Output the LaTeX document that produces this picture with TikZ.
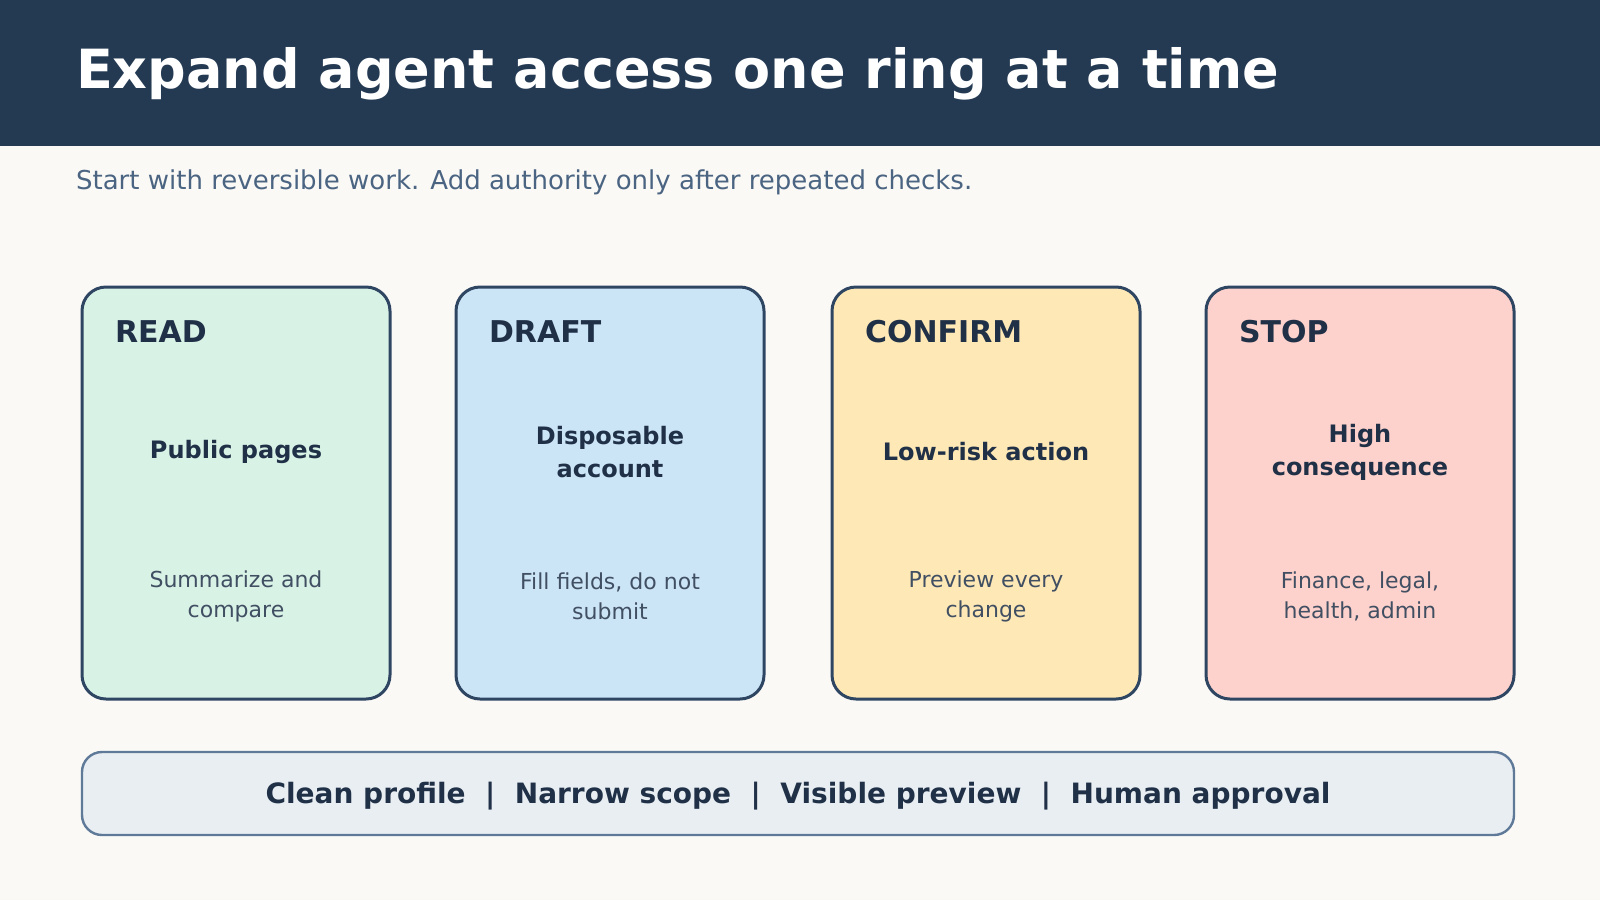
\documentclass[tikz,border=0pt]{standalone}
\usepackage{fontspec}
\setmainfont{DejaVu Sans}
\begin{document}
\definecolor{bg}{HTML}{FAF9F6}
\definecolor{hdr}{HTML}{243A53}
\definecolor{ink}{HTML}{1F3047}
\definecolor{sub}{HTML}{4A6482}
\definecolor{edge}{HTML}{2F4663}
\definecolor{cg}{HTML}{D9F2E6}
\definecolor{cb}{HTML}{CCE5F6}
\definecolor{cy}{HTML}{FEE8B6}
\definecolor{cr}{HTML}{FED2CC}
\definecolor{barf}{HTML}{E9EEF3}
\definecolor{bare}{HTML}{5F7A99}
\begin{tikzpicture}[x=0.5pt,y=-0.5pt,
 card/.style={draw=edge,line width=1.5pt,rounded corners=12pt},
 ctitle/.style={anchor=west,font=\fontsize{15}{18}\selectfont\bfseries,text=ink},
 cmid/.style={align=center,font=\fontsize{12}{16.5}\selectfont\bfseries,text=ink},
 csmall/.style={align=center,font=\fontsize{11}{15}\selectfont,text=ink!85}]
\fill[bg] (0,0) rectangle (1600,900);
\useasboundingbox (0,0) rectangle (1600,900);
\fill[hdr] (0,0) rectangle (1600,146);
\node[anchor=west,text=white,font=\fontsize{27}{32}\selectfont\bfseries] (title) at (69,74) {Expand agent access one ring at a time};
\node[anchor=west,text=sub,font=\fontsize{13}{16}\selectfont] (subt) at (69,182) {Start with reversible work. Add authority only after repeated checks.};
\foreach \n/\x/\c/\t/\m/\s in {a/82/cg/READ/{Public pages}/{Summarize and\\compare},
 b/456/cb/DRAFT/{Disposable\\account}/{Fill fields, do not\\submit},
 c/832/cy/CONFIRM/{Low-risk action}/{Preview every\\change},
 d/1206/cr/STOP/{High\\consequence}/{Finance, legal,\\health, admin}}{
 \draw[card,fill=\c] (\x,287) rectangle ++(308,412);
 \node[ctitle] (t\n) at (\x+26,332) {\t};
 \node[cmid] (m\n) at (\x+154,452) {\m};
 \node[csmall] (s\n) at (\x+154,596) {\s};
}
\draw[draw=bare,line width=1.2pt,fill=barf,rounded corners=10pt] (82,752) rectangle (1514,835);
\node[text=ink,font=\fontsize{14}{17}\selectfont\bfseries] (bar) at (798,796) {Clean profile \ | \ Narrow scope \ | \ Visible preview \ | \ Human approval};
\end{tikzpicture}
\end{document}
